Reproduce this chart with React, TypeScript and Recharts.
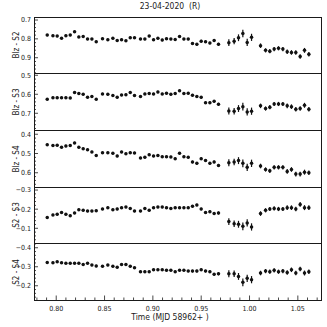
import React from 'react';
import { ScatterChart, Scatter, XAxis, YAxis, ErrorBar } from 'recharts';

// time of each frame (MJD - 58962)
const TIME = [
  0.7907, 0.7966, 0.801, 0.8055, 0.81, 0.8145, 0.819, 0.8234, 0.8279, 0.8324,
  0.8369, 0.8414, 0.8479, 0.8534, 0.8586, 0.8631, 0.8676, 0.8721, 0.8766, 0.881,
  0.8872, 0.8917, 0.8962, 0.9007, 0.9052, 0.9097, 0.9141, 0.9186, 0.9231, 0.9276,
  0.9321, 0.9366, 0.941, 0.9455, 0.95, 0.9545, 0.959, 0.9634, 0.9679,
  0.9786, 0.9841, 0.9886, 0.9931, 0.9976, 1.0021,
  1.0114, 1.0166, 1.021, 1.0255, 1.03, 1.0345, 1.039, 1.0434, 1.0479, 1.0524, 1.0569, 1.0614,
];

const BLZ_S2 = [
  0.78, 0.783, 0.785, 0.797, 0.783, 0.78, 0.762, 0.79, 0.787, 0.801,
  0.801, 0.815, 0.799, 0.804, 0.797, 0.808, 0.804, 0.81, 0.794, 0.794,
  0.801, 0.801, 0.785, 0.804, 0.797, 0.806, 0.799, 0.801, 0.803, 0.787,
  0.801, 0.801, 0.824, 0.829, 0.812, 0.815, 0.822, 0.808, 0.829,
  0.82, 0.812, 0.794, 0.771, 0.819, 0.792,
  0.836, 0.861, 0.865, 0.854, 0.85, 0.854, 0.868, 0.872, 0.872, 0.893, 0.861, 0.882,
];

const BLZ_S3 = [
  0.626, 0.618, 0.618, 0.618, 0.618, 0.619, 0.591, 0.596, 0.6, 0.616,
  0.612, 0.626, 0.598, 0.6, 0.607, 0.616, 0.604, 0.602, 0.591, 0.607,
  0.612, 0.598, 0.596, 0.598, 0.588, 0.598, 0.595, 0.6, 0.596, 0.581,
  0.596, 0.595, 0.605, 0.612, 0.616, 0.644, 0.644, 0.637, 0.653,
  0.688, 0.689, 0.675, 0.665, 0.693, 0.689,
  0.661, 0.675, 0.668, 0.651, 0.651, 0.651, 0.661, 0.665, 0.679, 0.675, 0.658, 0.679,
];

const BLZ_S4 = [
  0.454, 0.459, 0.457, 0.468, 0.461, 0.459, 0.445, 0.468, 0.475, 0.48,
  0.492, 0.51, 0.496, 0.496, 0.499, 0.513, 0.492, 0.501, 0.496, 0.497,
  0.523, 0.52, 0.506, 0.513, 0.51, 0.517, 0.517, 0.518, 0.527, 0.499,
  0.517, 0.52, 0.544, 0.551, 0.527, 0.537, 0.551, 0.544, 0.562,
  0.548, 0.544, 0.537, 0.551, 0.572, 0.551,
  0.565, 0.583, 0.59, 0.572, 0.572, 0.572, 0.593, 0.583, 0.607, 0.607, 0.597, 0.6,
];

const S2_S3 = [
  -0.157, -0.17, -0.173, -0.183, -0.173, -0.166, -0.18, -0.197, -0.194, -0.19,
  -0.19, -0.192, -0.201, -0.208, -0.197, -0.201, -0.208, -0.211, -0.204, -0.19,
  -0.19, -0.204, -0.194, -0.208, -0.211, -0.211, -0.208, -0.204, -0.208, -0.208,
  -0.208, -0.208, -0.215, -0.222, -0.201, -0.183, -0.187, -0.177, -0.18,
  -0.135, -0.124, -0.121, -0.11, -0.128, -0.107,
  -0.177, -0.194, -0.201, -0.204, -0.201, -0.201, -0.208, -0.208, -0.201, -0.225, -0.208, -0.208,
];

const S2_S4 = [
  -0.323, -0.321, -0.326, -0.321, -0.319, -0.319, -0.319, -0.319, -0.312, -0.319,
  -0.309, -0.304, -0.302, -0.309, -0.302, -0.298, -0.312, -0.312, -0.302, -0.295,
  -0.274, -0.274, -0.274, -0.284, -0.284, -0.284, -0.281, -0.281, -0.274, -0.281,
  -0.281, -0.277, -0.277, -0.277, -0.284, -0.277, -0.274, -0.26, -0.263,
  -0.263, -0.263, -0.249, -0.218, -0.239, -0.232,
  -0.267, -0.277, -0.274, -0.281, -0.274, -0.277, -0.27, -0.284, -0.267, -0.288, -0.267, -0.274,
];

const ERR = [
  0.006, 0.006, 0.006, 0.006, 0.006, 0.006, 0.006, 0.006, 0.006, 0.006,
  0.006, 0.006, 0.006, 0.006, 0.006, 0.006, 0.006, 0.006, 0.006, 0.006,
  0.006, 0.006, 0.006, 0.006, 0.006, 0.006, 0.006, 0.006, 0.006, 0.006,
  0.006, 0.006, 0.007, 0.007, 0.007, 0.007, 0.007, 0.007, 0.008,
  0.018, 0.017, 0.018, 0.02, 0.019, 0.019,
  0.012, 0.011, 0.011, 0.011, 0.011, 0.011, 0.012, 0.012, 0.012, 0.012, 0.013, 0.012,
];

const X_TICKS = [0.8, 0.85, 0.9, 0.95, 1.0, 1.05];
const X_DOMAIN = [0.777, 1.075];

const PANELS = [
  { label: 'Blz - S2', values: BLZ_S2, ticks: [0.7, 0.8, 0.9], domain: [0.684, 0.981] },
  { label: 'Blz - S3', values: BLZ_S3, ticks: [0.5, 0.6, 0.7], domain: [0.488, 0.788] },
  { label: 'Blz - S4', values: BLZ_S4, ticks: [0.4, 0.5, 0.6], domain: [0.378, 0.674] },
  { label: 'S2 - S3', values: S2_S3, ticks: [-0.3, -0.2, -0.1], domain: [-0.316, -0.023] },
  { label: 'S2 - S4', values: S2_S4, ticks: [-0.4, -0.3, -0.2], domain: [-0.425, -0.125] },
];

const TOPS = [17, 73, 130, 187, 243];
const HEIGHTS = [56, 57, 57, 56, 57];
const LEFT = 34;
const PLOT_W = 288;
const FONT = "'Liberation Sans Narrow', 'DejaVu Sans Condensed', sans-serif";
const INK = '#1a1a1a';

// all tick positions on a step grid inside [lo, hi]
const grid = (lo: number, hi: number, step: number) => {
  const out: number[] = [];
  for (let k = Math.ceil(lo / step - 1e-6); k <= Math.floor(hi / step + 1e-6); k++) {
    out.push(Math.round(k * step * 1000) / 1000);
  }
  return out;
};

const fmt = (v: number, d: number) => v.toFixed(d).replace('-', '\u2212');

const makeYTick = (majors: number[]) => (props: any) => {
  const { x, y, payload } = props;
  const v = payload.value;
  const major = majors.some((m) => Math.abs(m - v) < 1e-6);
  const ax = x + 3;
  return (
    <g>
      <line x1={ax} x2={ax + (major ? 4 : 2)} y1={y} y2={y} stroke={INK} strokeWidth={0.8} />
      {major && (
        <text x={x} y={y} dy={2.4} textAnchor="end" fontSize={7} fontFamily={FONT} fill={INK}>
          {fmt(v, 1)}
        </text>
      )}
    </g>
  );
};

const makeXTick = (showLabels: boolean) => (props: any) => {
  const { x, y, payload } = props;
  const v = payload.value;
  const major = X_TICKS.some((m) => Math.abs(m - v) < 1e-6);
  const ay = y - 3;
  return (
    <g>
      <line x1={x} x2={x} y1={ay} y2={ay - (major ? 4.5 : 2.5)} stroke={INK} strokeWidth={0.8} />
      {major && showLabels && (
        <text x={x} y={ay + 10.5} textAnchor="middle" fontSize={7} fontFamily={FONT} fill={INK}>
          {fmt(v, 2)}
        </text>
      )}
    </g>
  );
};

const Dot = (props: any) => <circle cx={props.cx} cy={props.cy} r={1.75} fill="#111" />;

const xGrid = grid(X_DOMAIN[0], X_DOMAIN[1], 0.01);

export default function App() {
  return (
    <div style={{ position: 'absolute', left: 0, top: 0, width: 327, height: 327, background: '#fff', fontFamily: FONT, color: INK }}>
      <div style={{ position: 'absolute', left: 0, width: 340, top: 1, textAlign: 'center', fontSize: 8.5, whiteSpace: 'pre' }}>
        {'23-04-2020  (R)'}
      </div>
      {PANELS.map((p, i) => {
        const last = i === PANELS.length - 1;
        const data = TIME.map((t, j) => ({ t, v: p.values[j], e: ERR[j] }));
        const xh = last ? 20 : 0;
        return (
          <React.Fragment key={p.label}>
            <div style={{ position: 'absolute', left: 0, top: TOPS[i] }}>
              <ScatterChart width={327} height={HEIGHTS[i] + xh} margin={{ top: 0, right: 327 - LEFT - PLOT_W, bottom: 0, left: 4 }}>
                <XAxis
                  type="number"
                  dataKey="t"
                  domain={X_DOMAIN}
                  allowDataOverflow
                  ticks={xGrid}
                  interval={0}
                  height={xh}
                  axisLine={false}
                  tickLine={false}
                  tickSize={0}
                  tickMargin={3}
                  tick={makeXTick(last)}
                />
                <YAxis
                  type="number"
                  dataKey="v"
                  domain={p.domain}
                  allowDataOverflow
                  reversed
                  ticks={grid(p.domain[0], p.domain[1], 0.02)}
                  interval={0}
                  width={30}
                  axisLine={false}
                  tickLine={false}
                  tickSize={0}
                  tickMargin={3}
                  tick={makeYTick(p.ticks)}
                />
                <Scatter data={data} isAnimationActive={false} shape={Dot}>
                  <ErrorBar dataKey="e" direction="y" width={0} stroke="#111" strokeWidth={1.2} isAnimationActive={false} />
                </Scatter>
              </ScatterChart>
            </div>
            <div
              style={{
                position: 'absolute',
                left: LEFT,
                top: TOPS[i],
                width: PLOT_W,
                height: HEIGHTS[i] + 1,
                border: `1px solid ${INK}`,
                boxSizing: 'border-box',
                pointerEvents: 'none',
              }}
            />
            <div
              style={{
                position: 'absolute',
                left: 17 - 40,
                width: 80,
                top: TOPS[i] + HEIGHTS[i] / 2 - 6,
                height: 12,
                lineHeight: '12px',
                textAlign: 'center',
                fontSize: 8,
                transform: 'rotate(-90deg)',
                whiteSpace: 'pre',
              }}
            >
              {p.label}
            </div>
          </React.Fragment>
        );
      })}
      <div style={{ position: 'absolute', left: 0, width: 340, top: 312, textAlign: 'center', fontSize: 8.5, whiteSpace: 'pre' }}>
        {'Time (MJD 58962+ )'}
      </div>
    </div>
  );
}
